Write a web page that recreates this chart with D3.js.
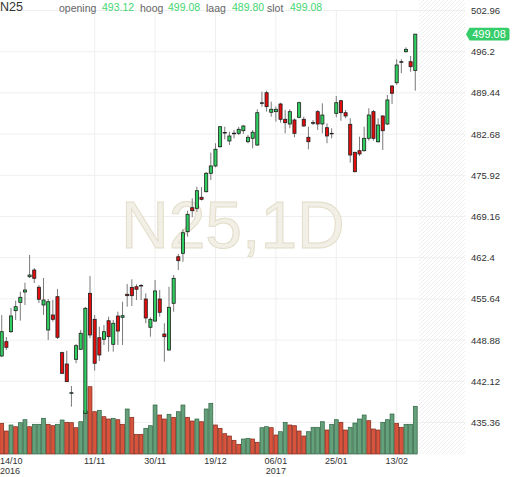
<!DOCTYPE html>
<html>
<head>
<meta charset="utf-8">
<script src="https://cdn.jsdelivr.net/npm/d3@7"></script>
<style>
  html, body { margin: 0; padding: 0; background: #fff; }
  svg { display: block; font-family: "Liberation Sans", Arial, sans-serif; }
</style>
</head>
<body>
<svg id="chart" width="512" height="477"></svg>
<script>
// ---------------- DATA ----------------
const symbol = "N25";
const interval = "1D";
const openV = [446.27,448.62,450.26,453.71,455.08,456.77,459.28,460.38,457.55,454.64,
  450.54,453.00,456.00,446.82,444.96,440.15,445.73,447.37,436.87,456.56,
  452.29,449.28,449.01,452.06,448.19,452.83,452.62,456.40,457.54,457.64,
  457.85,455.62,450.98,452.01,455.62,449.88,447.26,454.92,462.56,463.12,
  466.67,470.60,470.50,472.31,473.23,476.25,477.45,480.61,482.95,481.55,
  482.83,482.81,483.24,481.43,481.99,480.89,487.82,489.47,486.26,486.36,
  487.62,485.11,484.34,485.00,485.44,485.11,482.16,484.56,486.36,484.34,
  483.73,482.81,486.09,488.16,486.19,484.29,479.69,479.96,479.96,481.99,
  486.36,481.43,485.65,484.34,490.57,491.11,494.56,496.20,494.56,493.12];
const highV = [452.99,449.39,454.15,455.35,456.82,458.30,462.85,460.71,457.92,459.07,
  455.63,455.46,457.27,446.98,447.14,441.35,448.24,450.54,454.31,459.40,
  453.00,451.08,451.36,452.72,452.18,453.54,455.18,458.09,458.86,458.04,
  458.09,456.56,452.62,458.74,457.10,451.64,457.64,459.56,463.01,467.06,
  470.11,472.14,474.05,473.99,476.46,479.63,481.17,484.01,483.89,483.07,
  483.35,483.89,484.17,482.53,483.35,486.75,489.64,489.80,488.00,487.18,
  487.83,486.64,486.75,485.27,488.00,485.54,483.89,485.00,486.64,487.73,
  484.45,483.63,488.93,488.28,486.64,485.27,479.79,482.26,483.89,486.91,
  486.64,485.27,485.81,489.10,490.74,494.95,494.95,496.92,495.50,499.08];
const lowV = [446.11,447.26,450.05,452.18,452.07,454.64,459.07,458.25,454.97,453.00,
  448.90,451.90,449.06,443.32,442.01,437.96,445.08,447.26,436.10,449.18,
  443.86,445.45,448.08,446.98,446.98,448.08,448.08,454.36,454.48,455.46,
  455.46,451.64,449.44,451.90,452.72,445.34,447.14,453.54,460.38,461.74,
  465.84,469.03,469.95,471.79,473.10,475.15,477.23,480.45,481.83,480.89,
  481.99,482.53,482.70,481.17,480.35,480.73,487.19,486.36,485.54,484.72,
  484.55,482.81,483.63,482.16,485.27,483.89,480.19,484.17,483.35,482.81,
  481.17,481.99,485.44,484.88,485.27,477.99,476.40,479.09,479.79,481.60,
  481.60,481.27,480.07,484.17,487.62,490.74,492.66,496.04,492.90,489.80];
const closeV = [450.26,447.70,452.84,454.36,455.90,457.10,459.56,459.02,455.58,455.46,
  455.18,452.29,449.34,443.43,442.06,440.25,447.96,450.00,454.10,449.72,
  445.08,446.44,450.26,449.44,451.64,450.37,452.88,456.17,456.17,457.22,
  457.85,452.51,452.29,456.94,453.44,449.44,454.26,459.02,461.91,466.50,
  469.52,470.11,473.39,471.98,476.25,477.45,480.19,483.89,482.95,482.37,
  482.83,483.47,484.01,482.16,482.98,486.19,487.82,487.18,486.75,486.75,
  485.11,484.55,486.36,482.81,487.83,484.01,481.43,484.56,484.34,485.81,
  482.37,482.81,487.83,486.19,485.65,479.25,476.51,479.42,481.99,485.81,
  481.99,484.17,483.24,488.28,489.38,494.02,494.56,496.59,493.74,499.08];
const volumeV = [30.7,23,29,27.3,31.3,34.3,27.3,29.7,29.7,35.7,
  29.7,28.3,29.7,34,31.7,31.3,26.3,32.3,43,67.3,
  42.3,43.7,37.3,35,35.7,34.3,29.7,45,36.7,19.7,
  19.7,25.7,28.3,49,39,35,39.7,36.7,42.3,49,
  36.7,33,35,32.3,45,50.7,29,25.7,20.3,18,
  13.7,9.7,15,15.7,15,11.7,26.3,27.3,26.3,19,
  22.3,31.7,29,28.3,23,18,22.3,26.7,26.7,32.3,
  24,29.7,34.3,31.7,24,26.7,31,35,39,33.3,
  25,24,31.7,34.3,40,30.7,26.7,29.7,29.7,47.7];
const volumeDir = "RRGRGGRGGGRRGGRRRGGRRGRRGRRGRRRGGGRRGRGGRRGRGGRRRRRRGGRRGGRRGGRRRRGGGGRGGRRGGGGRRRGGGRRGGG";
const priceTicks = [502.96,496.2,489.44,482.68,475.92,469.16,462.4,455.64,448.88,442.12,435.36];
const priceTickLabels = ["502.96","496.2","489.44","482.68","475.92","469.16","462.4","455.64","448.88","442.12","435.36"];
const dateTickIndex = [0,20,33,46,59,72,85];
const dateTickLabels = ["14/10","11/11","30/11","19/12","06/01","25/01","13/02"];
const yearLabels = {0:"2016", 59:"2017"};

// ---------------- CHART ----------------
const svg = d3.select("#chart");
const n = closeV.length;
const idx = d3.range(n);

const x = d3.scaleBand().domain(idx).range([-0.6, 417.6]).padding(0);
const cx = i => x(i) + x.bandwidth() / 2;
const y = d3.scaleLinear().domain([435.36, 502.96]).range([422.5, 10.5]);
const vY = d3.scaleLinear().domain([0, 70]).range([454, 384]);

const plotRight = 465;
const fontAxis = 9.5;
const fontDate = 9;

// hatch pattern for the future area
const defs = svg.append("defs");
const pat = defs.append("pattern").attr("id", "hatch")
  .attr("patternUnits", "userSpaceOnUse").attr("width", 4).attr("height", 4);
pat.append("path").attr("d", "M-1,1 l2,-2 M0,4 l4,-4 M3,5 l2,-2")
  .attr("stroke", "#ececec").attr("stroke-width", 0.9);

svg.append("rect").attr("x", 419).attr("y", 0).attr("width", plotRight - 419).attr("height", 454)
  .attr("fill", "url(#hatch)");

// grid lines
svg.append("g").selectAll("line").data(priceTicks).join("line")
  .attr("x1", 0).attr("x2", plotRight)
  .attr("y1", d => y(d)).attr("y2", d => y(d))
  .attr("stroke", "#efefef").attr("stroke-width", 1);

svg.append("g").selectAll("line").data(dateTickIndex.filter(i => i > 0)).join("line")
  .attr("x1", d => cx(d)).attr("x2", d => cx(d))
  .attr("y1", 10.5).attr("y2", 454)
  .attr("stroke", "#efefef").attr("stroke-width", 1);

// watermark
svg.append("text").attr("x", 121).attr("y", 247.7)
  .attr("font-size", 66).attr("fill", "#f2efe6").attr("stroke", "#e3ddca").attr("stroke-width", 1)
  .text(symbol + "," + interval);

// volume bars
const vw = 3.9;
svg.append("g").selectAll("rect").data(idx).join("rect")
  .attr("x", i => cx(i) - vw / 2)
  .attr("y", i => vY(volumeV[i]))
  .attr("width", vw)
  .attr("height", i => vY(0) - vY(volumeV[i]))
  .attr("fill", i => volumeDir[i] === "G" ? "#64a079" : "#d8533c")
  .attr("stroke", i => volumeDir[i] === "G" ? "#2f6343" : "#7e2719")
  .attr("stroke-width", 0.7);

// candles
const cg = svg.append("g");
cg.selectAll("line").data(idx).join("line")
  .attr("x1", i => cx(i)).attr("x2", i => cx(i))
  .attr("y1", i => y(highV[i])).attr("y2", i => y(lowV[i]))
  .attr("stroke", "#7a7a7a").attr("stroke-width", 1);

const bw = 3.1;
cg.selectAll("rect").data(idx).join("rect")
  .attr("x", i => cx(i) - bw / 2)
  .attr("y", i => y(Math.max(openV[i], closeV[i])))
  .attr("width", bw)
  .attr("height", i => Math.max(0.6, Math.abs(y(openV[i]) - y(closeV[i]))))
  .attr("fill", i => closeV[i] > openV[i] ? "#2fcf5f" : (closeV[i] < openV[i] ? "#e30d0d" : "#222"))
  .attr("stroke", "#1e1e1e").attr("stroke-width", 0.8);

// price axis labels
svg.append("g").selectAll("text").data(priceTicks).join("text")
  .attr("x", 471).attr("y", d => y(d) + 3.4)
  .attr("font-size", fontAxis).attr("fill", "#333")
  .text((d, i) => priceTickLabels[i]);

// last price tag
const last = closeV[n - 1];
const ly = y(last);
svg.append("path")
  .attr("d", `M466,${ly} L469.5,${ly - 6.3} L507.5,${ly - 6.3} Q509.5,${ly - 6.3} 509.5,${ly - 4.3} L509.5,${ly + 4.3} Q509.5,${ly + 6.3} 507.5,${ly + 6.3} L469.5,${ly + 6.3} Z`)
  .attr("fill", "#35cd6a");
svg.append("text").attr("x", 489).attr("y", ly + 3.9).attr("text-anchor", "middle")
  .attr("font-size", 11).attr("fill", "#fff").text(last.toFixed(2));

// date axis labels
svg.append("g").selectAll("text").data(dateTickIndex).join("text")
  .attr("x", (d, i) => i === 0 ? 0 : cx(d))
  .attr("y", 463.8)
  .attr("text-anchor", (d, i) => i === 0 ? "start" : "middle")
  .attr("font-size", fontDate).attr("fill", "#333")
  .text((d, i) => dateTickLabels[i]);
svg.append("g").selectAll("text").data(dateTickIndex.filter(d => yearLabels[d])).join("text")
  .attr("x", d => d === 0 ? 0 : cx(d))
  .attr("y", 474.3)
  .attr("text-anchor", d => d === 0 ? "start" : "middle")
  .attr("font-size", fontDate).attr("fill", "#333")
  .text(d => yearLabels[d]);

// header
svg.append("text").attr("x", 0).attr("y", 11).attr("font-size", 12.5).attr("fill", "#333").text(symbol);
const hdr = [
  {label: "opening", lx: 59, vx: 102, v: openV[n - 1]},
  {label: "hoog", lx: 140, vx: 168, v: highV[n - 1]},
  {label: "laag", lx: 206, vx: 232, v: lowV[n - 1]},
  {label: "slot", lx: 267, vx: 290, v: closeV[n - 1]}
];
const hg = svg.append("g");
hg.selectAll("text.l").data(hdr).join("text").attr("class", "l")
  .attr("x", d => d.lx).attr("y", 11.5).attr("font-size", 10.5).attr("fill", "#666").text(d => d.label);
hg.selectAll("text.v").data(hdr).join("text").attr("class", "v")
  .attr("x", d => d.vx).attr("y", 10.5).attr("font-size", 10.5).attr("fill", "#44d672").text(d => d.v.toFixed(2));
</script>
</body>
</html>
